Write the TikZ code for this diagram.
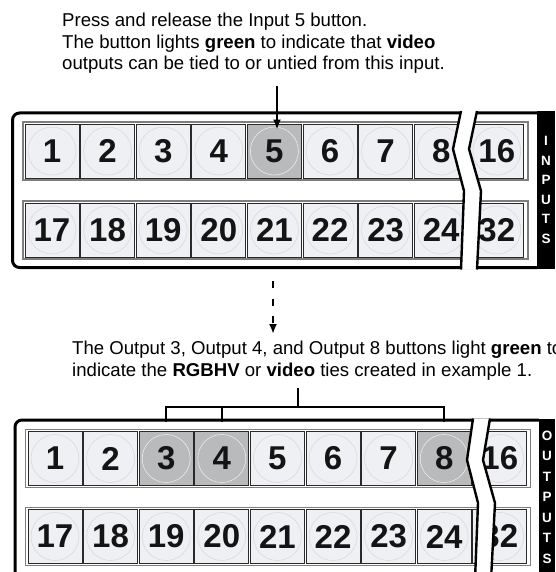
\documentclass[tikz,border=0pt]{standalone}
\usepackage{fontspec}
\setmainfont{Liberation Sans}
\usepackage{xcolor}
\usepackage{tikz}
\usetikzlibrary{arrows.meta,positioning}
\definecolor{keyFace}{HTML}{EEF0F3}
\definecolor{keyRing}{HTML}{D8DADC}
\definecolor{keyLit}{HTML}{B9BABC}
\definecolor{keyEdge}{HTML}{2A2A2A}
\definecolor{railGrey}{HTML}{7E7E7E}

\begin{document}
\begin{tikzpicture}[
  x=1pt, y=-1pt,
  every node/.style={font=\fontsize{18.6}{21.5}\selectfont},
  note/.style={align=left, anchor=north west, inner sep=0pt},
  btn/.style={draw=keyEdge, line width=0.9pt, fill=keyFace, minimum width=54pt, minimum height=54pt, inner sep=0pt,
    font=\fontsize{33}{33}\selectfont\bfseries, text=black!92,
    path picture={\draw[keyRing, line width=0.6pt] (path picture bounding box.center) circle (24pt);}},
  lit/.style={btn, fill=keyLit,
    path picture={\draw[white!70!keyLit, line width=0.6pt] (path picture bounding box.center) circle (24pt);}},
  rail/.style={draw=railGrey, line width=1.4pt, fill=white},
  frame/.style={line width=3pt, rounded corners=7pt},
  brk/.style={line width=2.4pt, line join=miter},
  tag/.style={text=white, align=center, inner sep=0pt, font=\fontsize{13.5}{19.5}\selectfont\bfseries},
  pipe/.style={-{Latex[length=10pt,width=8pt]}, line width=2pt},
  dpipe/.style={-{Latex[length=10pt,width=8pt]}, line width=2.2pt, dash pattern=on 7pt off 10.5pt},
  tie/.style={line width=1.6pt},
]
  \useasboundingbox (0,0) rectangle (555,572);

  % step 1: inputs
  \node[note] (press) at (62,13) {Press and release the Input 5 button.\\
    The button lights {\bfseries green} to indicate that {\bfseries video}\\
    outputs can be tied to or untied from this input.};

  \draw[frame] (537,113) -- (12.5,113) -- (12.5,267.5) -- (537,267.5);
  \fill (537,111.5) rectangle (555,269);
  \node[tag] (intag) at (546,190) {I\\N\\P\\U\\T\\S};

  \draw[rail] (23,122) rectangle (528,180);
  \draw[rail] (23,201) rectangle (528,259);
  \foreach \n/\kind in {1/btn,2/btn,3/btn,4/btn,5/lit,6/btn,7/btn,8/btn}
    \node[\kind] (in\n) at ({52+55.6*(\n-1)},151) {\n};
  \foreach \n in {17,...,24}
    \node[btn] (in\n) at ({52+55.6*(\n-17)},230) {\n};
  \node[btn] (in16) at (496.8,151) {16};
  \node[btn] (in32) at (496.8,230) {32};

  \fill[white] (461,111) -- (453,149) -- (464,191) -- (461,269.5)
    -- (477,269.5) -- (481,191) -- (469,149) -- (477,111) -- cycle;
  \draw[brk] (461,111) -- (453,149) -- (464,191) -- (461,269.5);
  \draw[brk] (477,111) -- (469,149) -- (481,191) -- (477,269.5);

  \coordinate (push) at (277,86);
  \draw[pipe, shorten >=-6pt] (push) -- (push |- in5.north);

  % step 2: outputs
  \coordinate (next) at (273,281);
  \node[note] (result) at (72,341) {The Output 3, Output 4, and Output 8 buttons light {\bfseries green} to\\
    indicate the {\bfseries RGBHV} or {\bfseries video} ties created in example 1.};
  \draw[dpipe, shorten >=7pt] (next) -- (next |- result.north);

  \draw[frame] (539,420) -- (15,420) -- (15,580);
  \fill (539,418.5) rectangle (555,580);
  \node[tag, font=\fontsize{13.5}{20.5}\selectfont\bfseries] (outtag) at (547,497) {O\\U\\T\\P\\U\\T\\S};

  \draw[rail] (25.5,429.5) rectangle (530.5,487.5);
  \draw[rail] (25.5,507.5) rectangle (530.5,565.5);
  \foreach \n/\kind in {1/btn,2/btn,3/lit,4/lit,5/btn,6/btn,7/btn,8/lit}
    \node[\kind] (out\n) at ({55+55.6*(\n-1)},458.5) {\n};
  \foreach \n in {17,...,24}
    \node[btn] (out\n) at ({55+55.6*(\n-17)},536.5) {\n};
  \node[btn] (out16) at (499.8,458.5) {16};
  \node[btn] (out32) at (499.8,536.5) {32};

  \fill[white] (473,418.5) -- (467,460) -- (478,503) -- (475,580)
    -- (491,580) -- (495,503) -- (483,460) -- (490,418.5) -- cycle;
  \draw[brk] (473,418.5) -- (467,460) -- (478,503) -- (475,580);
  \draw[brk] (490,418.5) -- (483,460) -- (495,503) -- (491,580);

  \coordinate (tie) at (298,388);
  \coordinate (bar) at (298,407);
  \draw[tie] (tie) -- (bar);
  \draw[tie] ([yshift=9pt]out3.north) |- (bar) -| ([yshift=9pt]out8.north);
  \draw[tie] ([yshift=9pt]out4.north) -- (out4.north |- bar);
\end{tikzpicture}
\end{document}
